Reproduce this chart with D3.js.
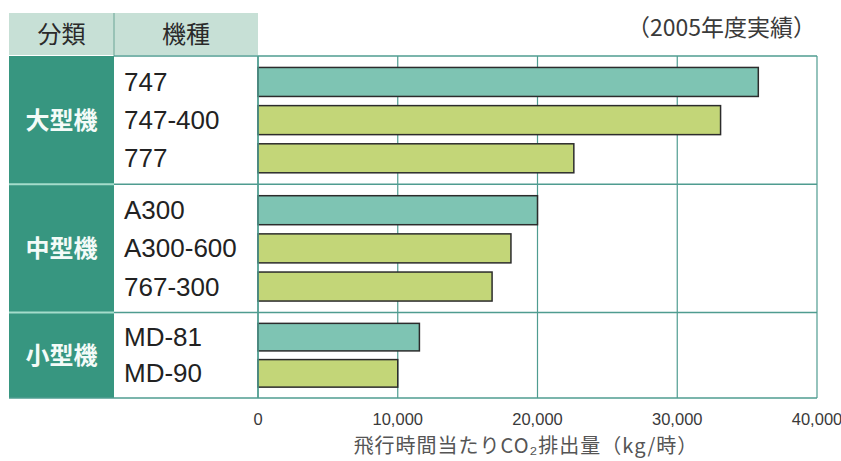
<!DOCTYPE html>
<html><head><meta charset="utf-8">
<script src="https://cdn.jsdelivr.net/npm/d3@7"></script>
<style>
html,body{margin:0;padding:0;background:#fff;}
svg{display:block;}
</style></head>
<body>
<svg id="c" width="841" height="461"></svg>
<script>
// ---- data ----
const groups = ["大型機", "中型機", "小型機"];
const models = ["747", "747-400", "777", "A300", "A300-600", "767-300", "MD-81", "MD-90"];
const modelGroup = ["大型機", "大型機", "大型機", "中型機", "中型機", "中型機", "小型機", "小型機"];
const values = [35800, 33100, 22600, 20000, 18100, 16750, 11550, 10000];
const barKind = ["a", "b", "b", "a", "b", "b", "a", "b"];
const xTicks = [0, 10000, 20000, 30000, 40000];
const headers = ["分類", "機種"];
const note = "（2005年度実績）";
const xTitle = ["飛行時間当たりCO", "₂", "排出量（kg/時）"];

// ---- layout ----
const svg = d3.select("#c");
const L = 9, C1 = 114, PL = 258, PR = 817, T = 56, B = 398, HT = 13;
const teal = "#4f9c90", dark = "#379680", headBg = "#c7e0d6";
const colors = {a: "#7ec4b3", b: "#c3d678"};
const fontLat = "'Liberation Sans', Arial, 'Noto Sans CJK JP', sans-serif";
const fontJp = "'Noto Sans CJK JP', 'Liberation Sans', sans-serif";

const x = d3.scaleLinear().domain([0, 40000]).range([PL, PR]);

// group ranges proportional to number of models
const counts = groups.map(g => modelGroup.filter(m => m === g).length);
const rowH = (B - T) / models.length;
let acc = T;
const gRange = groups.map((g, i) => { const r = [acc, acc + counts[i] * rowH]; acc = r[1]; return r; });
const yScales = groups.map((g, i) => d3.scaleBand()
  .domain(models.filter((m, j) => modelGroup[j] === g))
  .range(gRange[i]).paddingInner(0.24).paddingOuter(0.3));
const yOf = m => { const gi = groups.indexOf(modelGroup[models.indexOf(m)]); return yScales[gi]; };

// header
svg.append("rect").attr("x", L).attr("y", HT).attr("width", PL - L).attr("height", T - HT - 1).attr("fill", headBg);
svg.append("line").attr("x1", C1).attr("x2", C1).attr("y1", HT).attr("y2", T).attr("stroke", "#6aa596").attr("stroke-width", 1);
svg.selectAll("text.hd").data(headers).join("text")
  .attr("x", (d, i) => i === 0 ? (L + C1) / 2 : (C1 + PL) / 2)
  .attr("y", (HT + T) / 2 + 8.5)
  .attr("text-anchor", "middle").attr("font-family", fontJp).attr("font-size", 24)
  .attr("fill", "#2a2a2a").text(d => d);

// note
svg.append("text").attr("x", 816).attr("y", 36).attr("text-anchor", "end")
  .attr("font-family", fontJp).attr("font-size", 23).attr("fill", "#3a3a3a").text(note);

// left group column
svg.append("rect").attr("x", L).attr("y", T).attr("width", C1 - L).attr("height", B - T).attr("fill", dark);

// grid lines
svg.selectAll("line.grid").data(xTicks).join("line")
  .attr("x1", d => x(d)).attr("x2", d => x(d)).attr("y1", T).attr("y2", B)
  .attr("stroke", teal).attr("stroke-width", 1.2);

// top border
svg.append("line").attr("x1", C1).attr("x2", PR).attr("y1", T).attr("y2", T).attr("stroke", teal).attr("stroke-width", 1.5);
// bottom border
svg.append("line").attr("x1", L).attr("x2", PR).attr("y1", B).attr("y2", B).attr("stroke", teal).attr("stroke-width", 1.5);

// group separators
gRange.slice(0, -1).forEach(r => {
  svg.append("line").attr("x1", L).attr("x2", C1).attr("y1", r[1]).attr("y2", r[1]).attr("stroke", "#a5dccb").attr("stroke-width", 2);
  svg.append("line").attr("x1", C1).attr("x2", PR).attr("y1", r[1]).attr("y2", r[1]).attr("stroke", teal).attr("stroke-width", 1.5);
});

// group labels
svg.selectAll("text.grp").data(groups).join("text")
  .attr("x", (L + C1) / 2).attr("y", (d, i) => (gRange[i][0] + gRange[i][1]) / 2 + 9)
  .attr("text-anchor", "middle").attr("font-family", fontJp).attr("font-weight", "bold")
  .attr("font-size", 24).attr("fill", "#f4fbf8").text(d => d);

// model labels
svg.selectAll("text.mdl").data(models).join("text")
  .attr("x", 124).attr("y", d => yOf(d)(d) + yOf(d).bandwidth() / 2 + 9)
  .attr("font-family", fontLat).attr("font-size", 26).attr("fill", "#222").text(d => d);

// bars
svg.selectAll("rect.bar").data(models).join("rect")
  .attr("x", x(0)).attr("y", d => yOf(d)(d))
  .attr("width", (d, i) => x(values[i]) - x(0))
  .attr("height", d => yOf(d).bandwidth())
  .attr("fill", (d, i) => colors[barKind[i]])
  .attr("stroke", "#2c2c2c").attr("stroke-width", 1.5);

// axis line at 0 (on top)
svg.append("line").attr("x1", PL).attr("x2", PL).attr("y1", T).attr("y2", B).attr("stroke", teal).attr("stroke-width", 1.5);

// tick labels
svg.selectAll("text.tk").data(xTicks).join("text")
  .attr("x", d => x(d)).attr("y", 425).attr("text-anchor", "middle")
  .attr("font-family", fontLat).attr("font-size", 16.5).attr("fill", "#3a3a3a")
  .text(d => d3.format(",")(d));

// axis title
const tt = svg.append("text").attr("x", 526).attr("y", 453).attr("text-anchor", "middle")
  .attr("font-family", fontJp).attr("font-size", 20).attr("letter-spacing", 1)
  .attr("fill", "#555");
tt.append("tspan").text(xTitle[0]);
tt.append("tspan").text(xTitle[1]);
tt.append("tspan").text(xTitle[2]);
</script>
</body></html>
